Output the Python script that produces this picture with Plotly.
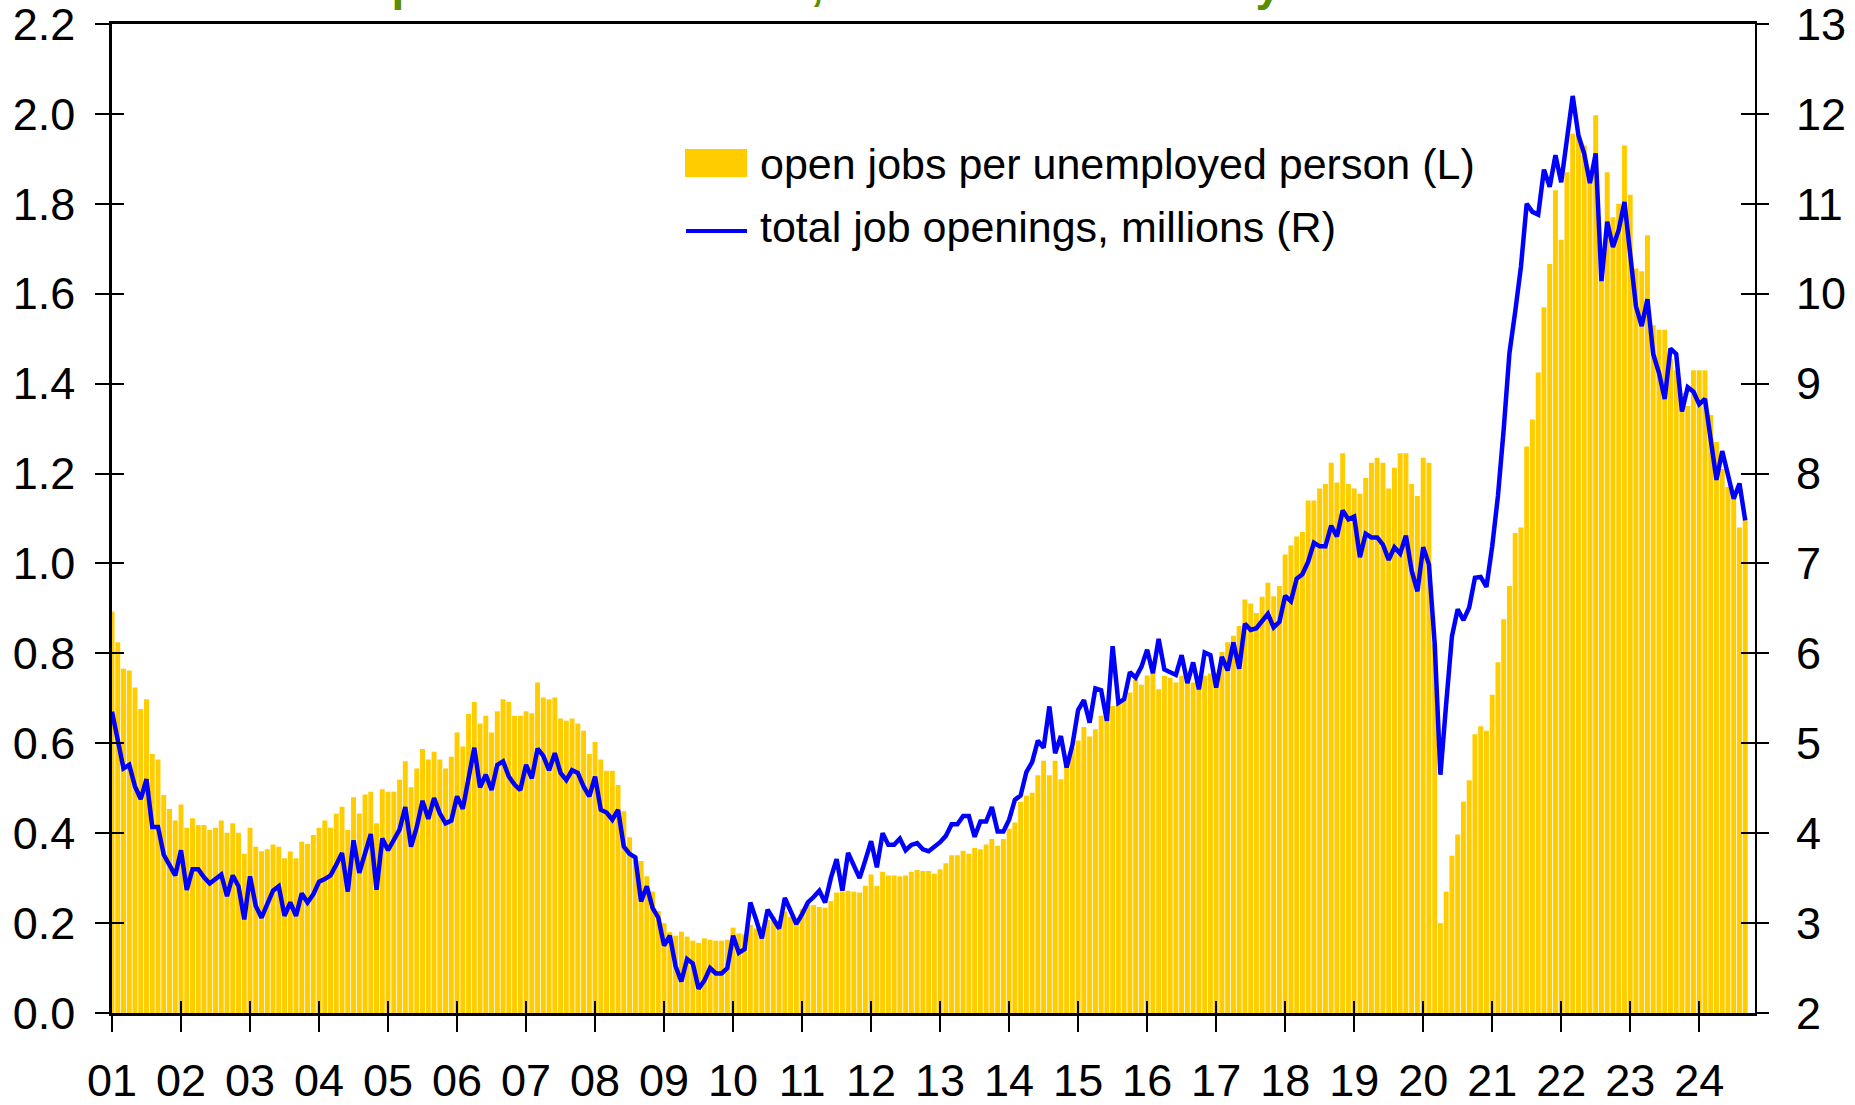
import plotly.graph_objects as go

# ---------------- data (monthly, Jan 2001 .. Sep 2024) ----------------
year_labels = ["01", "02", "03", "04", "05", "06", "07", "08", "09", "10", "11", "12",
               "13", "14", "15", "16", "17", "18", "19", "20", "21", "22", "23", "24"]
left_ticks = [0.0, 0.2, 0.4, 0.6, 0.8, 1.0, 1.2, 1.4, 1.6, 1.8, 2.0, 2.2]
right_ticks = [2, 3, 4, 5, 6, 7, 8, 9, 10, 11, 12, 13]

# open jobs per unemployed person (left axis)
jobs_per_unemployed = [
    0.893, 0.825, 0.766, 0.762, 0.724, 0.676, 0.698, 0.576, 0.564, 0.485, 0.454, 0.428,
    0.464, 0.412, 0.433, 0.418, 0.418, 0.407, 0.412, 0.428, 0.401, 0.422, 0.401, 0.354,
    0.412, 0.370, 0.360, 0.364, 0.375, 0.370, 0.344, 0.359, 0.344, 0.381, 0.376, 0.396,
    0.412, 0.428, 0.412, 0.443, 0.459, 0.407, 0.480, 0.444, 0.486, 0.492, 0.422, 0.498,
    0.492, 0.492, 0.519, 0.560, 0.502, 0.544, 0.587, 0.564, 0.581, 0.564, 0.544, 0.570,
    0.624, 0.593, 0.665, 0.692, 0.644, 0.661, 0.624, 0.671, 0.698, 0.692, 0.661, 0.661,
    0.671, 0.667, 0.735, 0.702, 0.698, 0.702, 0.655, 0.650, 0.655, 0.644, 0.628, 0.576,
    0.603, 0.564, 0.539, 0.539, 0.507, 0.449, 0.391, 0.339, 0.338, 0.304, 0.270, 0.227,
    0.200, 0.180, 0.172, 0.181, 0.170, 0.161, 0.156, 0.166, 0.163, 0.161, 0.161, 0.163,
    0.190, 0.177, 0.175, 0.196, 0.188, 0.192, 0.207, 0.214, 0.205, 0.226, 0.214, 0.207,
    0.231, 0.240, 0.240, 0.236, 0.234, 0.249, 0.268, 0.270, 0.272, 0.270, 0.268, 0.283,
    0.308, 0.283, 0.314, 0.306, 0.306, 0.304, 0.306, 0.314, 0.318, 0.316, 0.316, 0.310,
    0.320, 0.333, 0.351, 0.351, 0.361, 0.354, 0.367, 0.364, 0.375, 0.387, 0.372, 0.387,
    0.410, 0.424, 0.470, 0.483, 0.490, 0.529, 0.561, 0.529, 0.561, 0.520, 0.572, 0.590,
    0.606, 0.636, 0.615, 0.631, 0.661, 0.653, 0.683, 0.690, 0.698, 0.713, 0.742, 0.730,
    0.751, 0.757, 0.720, 0.750, 0.745, 0.735, 0.750, 0.742, 0.735, 0.727, 0.750, 0.755,
    0.757, 0.803, 0.825, 0.839, 0.861, 0.920, 0.911, 0.890, 0.926, 0.957, 0.927, 0.950,
    1.020, 1.040, 1.060, 1.070, 1.140, 1.140, 1.167, 1.177, 1.224, 1.180, 1.245, 1.177,
    1.167, 1.155, 1.190, 1.224, 1.235, 1.224, 1.167, 1.213, 1.245, 1.245, 1.177, 1.150,
    1.235, 1.224, 0.820, 0.200, 0.270, 0.350, 0.397, 0.470, 0.518, 0.620, 0.638, 0.628,
    0.708, 0.780, 0.876, 0.950, 1.068, 1.080, 1.260, 1.320, 1.425, 1.570, 1.666, 1.830,
    1.720, 1.870, 1.956, 1.950, 1.930, 1.870, 1.997, 1.700, 1.870, 1.770, 1.800, 1.930,
    1.820, 1.656, 1.650, 1.730, 1.530, 1.520, 1.520, 1.455, 1.430, 1.380, 1.350, 1.430,
    1.430, 1.430, 1.330, 1.270, 1.210, 1.170, 1.160, 1.080, 1.100,
]

# total job openings, millions (right axis)
job_openings_mn = [
    5.35, 5.05, 4.72, 4.76, 4.52, 4.38, 4.60, 4.07, 4.07, 3.76, 3.65, 3.53,
    3.81, 3.37, 3.60, 3.60, 3.51, 3.44, 3.49, 3.54, 3.30, 3.53, 3.41, 3.04,
    3.52, 3.19, 3.06, 3.22, 3.36, 3.41, 3.08, 3.23, 3.08, 3.33, 3.23, 3.32,
    3.46, 3.49, 3.53, 3.65, 3.78, 3.35, 3.92, 3.56, 3.78, 3.99, 3.37, 3.94,
    3.81, 3.92, 4.04, 4.29, 3.85, 4.07, 4.36, 4.16, 4.39, 4.22, 4.11, 4.14,
    4.41, 4.27, 4.60, 4.95, 4.51, 4.65, 4.48, 4.76, 4.80, 4.63, 4.54, 4.48,
    4.76, 4.61, 4.94, 4.86, 4.70, 4.89, 4.67, 4.59, 4.70, 4.67, 4.52, 4.41,
    4.63, 4.26, 4.23, 4.15, 4.26, 3.85, 3.77, 3.73, 3.24, 3.41, 3.17, 3.06,
    2.75, 2.86, 2.52, 2.35, 2.60, 2.55, 2.27, 2.36, 2.50, 2.44, 2.44, 2.50,
    2.86, 2.67, 2.71, 3.23, 3.04, 2.83, 3.15, 3.05, 2.94, 3.28, 3.13, 2.99,
    3.10, 3.23, 3.29, 3.36, 3.23, 3.50, 3.71, 3.36, 3.78, 3.64, 3.50, 3.70,
    3.91, 3.62, 4.00, 3.87, 3.87, 3.94, 3.81, 3.87, 3.89, 3.82, 3.80, 3.85,
    3.90, 3.97, 4.10, 4.10, 4.19, 4.19, 3.96, 4.13, 4.13, 4.29, 4.02, 4.02,
    4.15, 4.37, 4.42, 4.68, 4.79, 5.03, 4.95, 5.41, 4.89, 5.08, 4.73, 4.98,
    5.37, 5.48, 5.23, 5.61, 5.59, 5.25, 6.08, 5.45, 5.49, 5.79, 5.73, 5.85,
    6.04, 5.78, 6.16, 5.82, 5.79, 5.76, 5.98, 5.67, 5.90, 5.60, 6.01, 5.98,
    5.62, 5.96, 5.81, 6.12, 5.83, 6.33, 6.26, 6.28, 6.36, 6.44, 6.29, 6.35,
    6.64, 6.58, 6.83, 6.88, 7.02, 7.23, 7.19, 7.19, 7.42, 7.30, 7.59, 7.49,
    7.52, 7.07, 7.33, 7.29, 7.29, 7.21, 7.04, 7.18, 7.11, 7.31, 6.92, 6.69,
    7.18, 6.99, 6.11, 4.65, 5.44, 6.19, 6.49, 6.37, 6.51, 6.84, 6.85, 6.74,
    7.19, 7.75, 8.49, 9.34, 9.80, 10.30, 11.00, 10.91, 10.88, 11.38, 11.19, 11.54,
    11.24, 11.74, 12.20, 11.76, 11.56, 11.23, 11.56, 10.14, 10.80, 10.52, 10.71, 11.02,
    10.42, 9.86, 9.64, 9.94, 9.33, 9.12, 8.83, 9.39, 9.33, 8.69, 8.96, 8.91,
    8.77, 8.83, 8.38, 7.93, 8.25, 7.97, 7.72, 7.89, 7.48,
]

bar_name = "open jobs per unemployed person (L)"
line_name = "total job openings, millions (R)"
title_text = "Help-wanted ratio falls, total demand steady"

# ---------------- figure ----------------
W, H = 1855, 1105
ML, MR, MT, MB = 112, 100, 24, 92
FONT = "Liberation Sans, Arial, sans-serif"
BAR_COLOR = "#FFCC00"
LINE_COLOR = "#0000FF"

month_idx = list(range(len(job_openings_mn)))
tick_pos = [12 * i for i in range(len(year_labels))]
x_range = [0, 285.7]
y_range = [0, 2.2000001]
y2_range = [2, 13.000001]

fig = go.Figure()
fig.add_trace(go.Bar(x=month_idx, y=jobs_per_unemployed, name=bar_name,
                     marker=dict(color=BAR_COLOR, line=dict(width=0)),
                     yaxis="y", xaxis="x", showlegend=False))
fig.add_trace(go.Scatter(x=month_idx, y=job_openings_mn, name=line_name, mode="lines",
                         line=dict(color=LINE_COLOR, width=4.5),
                         yaxis="y2", xaxis="x", showlegend=False))
# helper traces so that the inner-tick overlay axes get drawn
fig.add_trace(go.Scatter(x=[None], y=[None], xaxis="x2", yaxis="y3", showlegend=False, hoverinfo="skip"))
fig.add_trace(go.Scatter(x=[None], y=[None], xaxis="x", yaxis="y4", showlegend=False, hoverinfo="skip"))

tickfont = dict(family=FONT, size=45, color="black")
common = dict(showgrid=False, zeroline=False, automargin=False)

fig.update_layout(
    template="none",
    width=W, height=H,
    margin=dict(l=ML, r=MR, t=MT, b=MB, pad=0, autoexpand=False),
    paper_bgcolor="white", plot_bgcolor="white",
    bargap=0.14,
    font=dict(family=FONT, color="black"),
    xaxis=dict(range=x_range, tickmode="array", tickvals=tick_pos, ticktext=year_labels,
               ticks="outside", ticklen=16, tickwidth=2, tickcolor="black",
               showline=True, linewidth=2.5, linecolor="black", mirror=True,
               tickfont=tickfont, ticklabelstandoff=10, ticklabeloverflow="allow", **common),
    xaxis2=dict(range=x_range, overlaying="x", anchor="y", tickmode="array", tickvals=tick_pos,
                ticks="inside", ticklen=12, tickwidth=2, tickcolor="black",
                showticklabels=False, showline=False, **common),
    yaxis=dict(range=y_range, tickmode="array", tickvals=left_ticks,
               ticktext=["%.1f" % v for v in left_ticks],
               ticks="outside", ticklen=14, tickwidth=2, tickcolor="black",
               showline=True, linewidth=2.5, linecolor="black",
               tickfont=tickfont, ticklabelstandoff=11, ticklabeloverflow="allow", **common),
    yaxis2=dict(range=y2_range, tickmode="array", tickvals=right_ticks,
                ticktext=[str(v) for v in right_ticks], overlaying="y", side="right",
                anchor="x", ticks="outside", ticklen=12, tickwidth=2, tickcolor="black",
                showline=True, linewidth=2.2, linecolor="black",
                tickfont=tickfont, ticklabelstandoff=18, ticklabeloverflow="allow", **common),
    yaxis3=dict(range=y_range, tickmode="array", tickvals=left_ticks, overlaying="y", side="left",
                anchor="x", ticks="inside", ticklen=12, tickwidth=2, tickcolor="black",
                showticklabels=False, showline=False, **common),
    yaxis4=dict(range=y2_range, tickmode="array", tickvals=right_ticks, overlaying="y", side="right",
                anchor="x", ticks="inside", ticklen=14, tickwidth=2, tickcolor="black",
                showticklabels=False, showline=False, **common),
)

# helpers to convert page pixels to paper coordinates
PW, PH = W - ML - MR, H - MT - MB
def px(x):
    return (x - ML) / PW
def py(y):
    return (H - MB - y) / PH

# custom legend
fig.add_shape(type="rect", xref="paper", yref="paper",
              x0=px(685), x1=px(747), y0=py(177), y1=py(149),
              fillcolor=BAR_COLOR, line=dict(width=0))
fig.add_shape(type="line", xref="paper", yref="paper",
              x0=px(686), x1=px(747), y0=py(231), y1=py(231),
              line=dict(color=LINE_COLOR, width=4))
legend_font = dict(family=FONT, size=43, color="black")
fig.add_annotation(text=bar_name, xref="paper", yref="paper", x=px(758), y=py(164),
                   xanchor="left", yanchor="middle", showarrow=False, font=legend_font)
fig.add_annotation(text=line_name, xref="paper", yref="paper", x=px(758), y=py(227),
                   xanchor="left", yanchor="middle", showarrow=False, font=legend_font)

# title, almost entirely above the visible page (only descenders show)
fig.add_annotation(text="<b>" + title_text + "</b>", xref="paper", yref="paper",
                   x=px(318), y=py(12), xanchor="left", yanchor="bottom", showarrow=False,
                   font=dict(family=FONT, size=46, color="#5A8F00"))

fig.write_html("out.html", config={"displayModeBar": False},
               post_script="document.body.style.margin='0px';")
